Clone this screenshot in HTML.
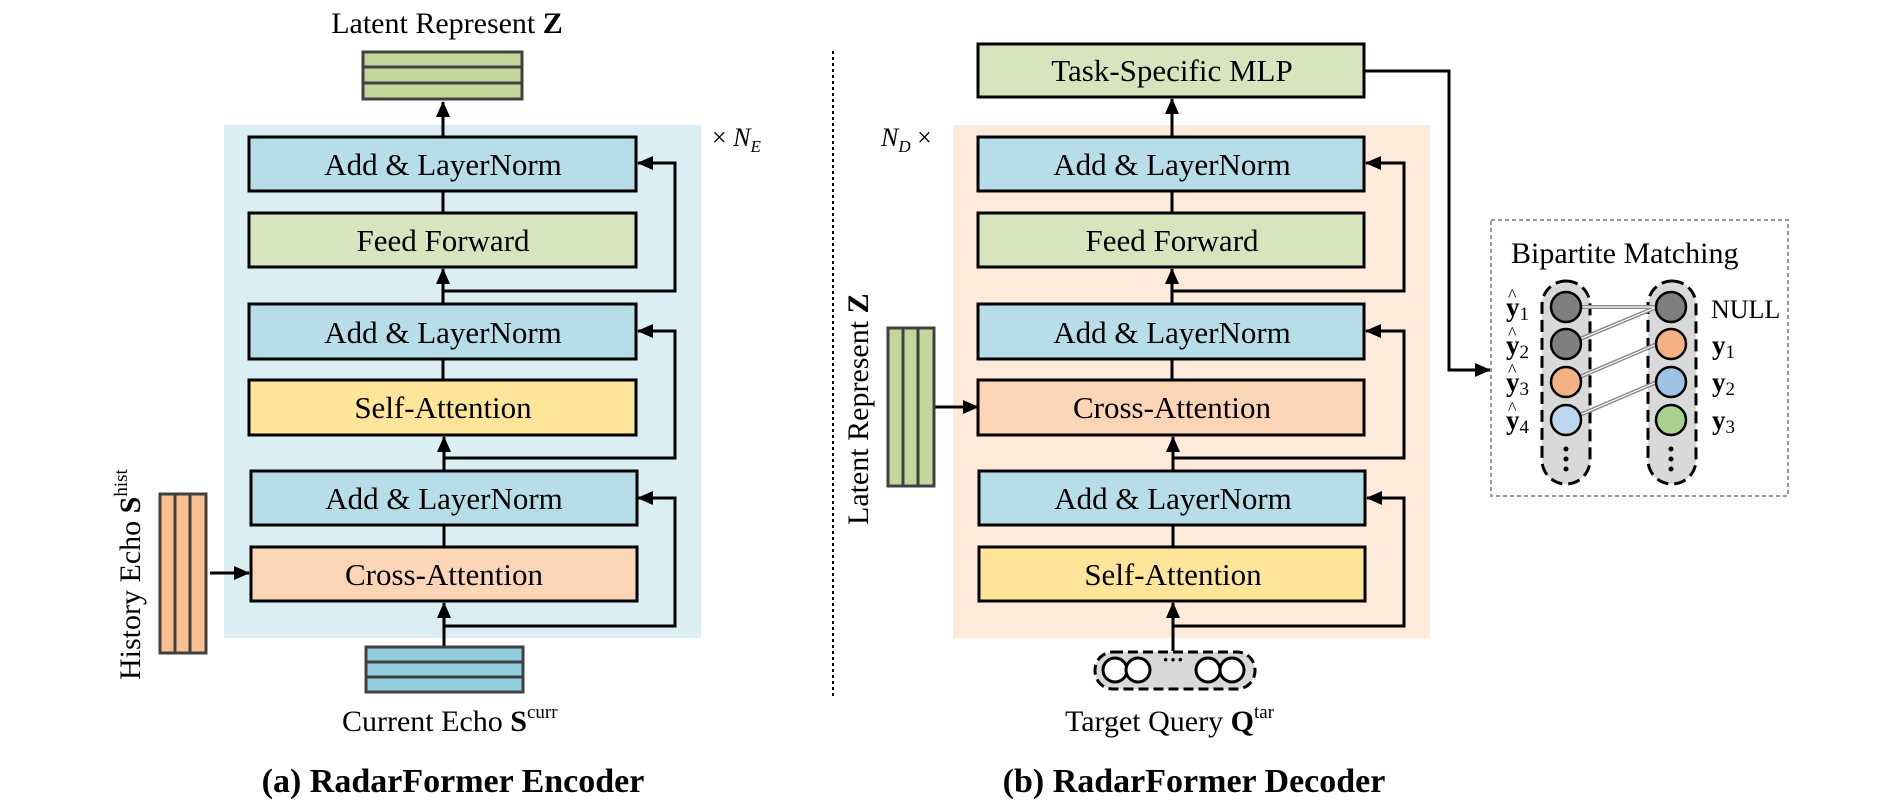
<!DOCTYPE html>
<html><head><meta charset="utf-8"><style>
html,body{margin:0;padding:0;background:#fff;}
svg{display:block;}
text{font-family:"Liberation Serif",serif;fill:#000;}
</style></head><body>
<svg width="1896" height="807" viewBox="0 0 1896 807" xmlns="http://www.w3.org/2000/svg">
<defs>
<marker id="ah" markerWidth="10" markerHeight="10" refX="9" refY="5" orient="auto" markerUnits="userSpaceOnUse" viewBox="0 0 10 10"><path d="M0,0 L10,5 L0,10 z" fill="#000"/></marker>
<marker id="ah2" markerWidth="16" markerHeight="16" refX="15" refY="8" orient="auto" markerUnits="userSpaceOnUse" viewBox="0 0 16 16"><path d="M0,1 L16,8 L0,15 z" fill="#000"/></marker>
</defs>

<!-- ENCODER -->
<text x="447" y="33" font-size="30" text-anchor="middle">Latent Represent <tspan font-weight="bold">Z</tspan></text>
<rect x="363" y="52" width="159" height="47" fill="#c3d69b" stroke="#404040" stroke-width="3"/>
<line x1="363" y1="67" x2="522" y2="67" stroke="#404040" stroke-width="3"/>
<line x1="363" y1="83" x2="522" y2="83" stroke="#404040" stroke-width="3"/>
<rect x="224" y="125" width="477" height="513" fill="#daeef3"/>
<line x1="443" y1="137" x2="443" y2="102" stroke="#000" stroke-width="3" marker-end="url(#ah2)"/>

<g stroke="#000" stroke-width="3" fill="none">
<line x1="443" y1="191" x2="443" y2="213"/>
<line x1="443" y1="304" x2="443" y2="269" marker-end="url(#ah2)"/>
<polyline points="443,291 675,291 675,163 638,163" marker-end="url(#ah2)"/>
<line x1="443" y1="359" x2="443" y2="380"/>
<line x1="444" y1="471" x2="444" y2="437" marker-end="url(#ah2)"/>
<polyline points="444,458 675,458 675,331 638,331" marker-end="url(#ah2)"/>
<line x1="444" y1="525" x2="444" y2="547"/>
<line x1="444" y1="647" x2="444" y2="603" marker-end="url(#ah2)"/>
<polyline points="444,626 675,626 675,498 638,498" marker-end="url(#ah2)"/>
<line x1="210" y1="573" x2="249" y2="573" marker-end="url(#ah2)"/>
</g>

<rect x="249" y="137" width="387" height="54" fill="#b7dde8" stroke="#000" stroke-width="3"/>
<text x="443" y="175" font-size="31" text-anchor="middle">Add &amp; LayerNorm</text>
<rect x="249" y="213" width="387" height="54" fill="#d7e4bd" stroke="#000" stroke-width="3"/>
<text x="443" y="251" font-size="31" text-anchor="middle">Feed Forward</text>
<rect x="249" y="304" width="387" height="55" fill="#b7dde8" stroke="#000" stroke-width="3"/>
<text x="443" y="343" font-size="31" text-anchor="middle">Add &amp; LayerNorm</text>
<rect x="249" y="380" width="387" height="55" fill="#fee599" stroke="#000" stroke-width="3"/>
<text x="443" y="418" font-size="31" text-anchor="middle">Self-Attention</text>
<rect x="251" y="471" width="386" height="54" fill="#b7dde8" stroke="#000" stroke-width="3"/>
<text x="444" y="509" font-size="31" text-anchor="middle">Add &amp; LayerNorm</text>
<rect x="251" y="547" width="386" height="54" fill="#fbd5b5" stroke="#000" stroke-width="3"/>
<text x="444" y="585" font-size="31" text-anchor="middle">Cross-Attention</text>

<text x="712" y="146" font-size="26">× <tspan font-style="italic">N</tspan><tspan font-style="italic" font-size="17" dy="6">E</tspan></text>

<rect x="366" y="647" width="157" height="45" fill="#92cddc" stroke="#404040" stroke-width="3"/>
<line x1="366" y1="662" x2="523" y2="662" stroke="#404040" stroke-width="3"/>
<line x1="366" y1="677" x2="523" y2="677" stroke="#404040" stroke-width="3"/>
<text x="342" y="731" font-size="30">Current Echo <tspan font-weight="bold">S</tspan><tspan font-size="19" dy="-13">curr</tspan></text>

<rect x="160" y="494" width="46" height="159" fill="#fac090" stroke="#404040" stroke-width="3"/>
<line x1="175" y1="494" x2="175" y2="653" stroke="#404040" stroke-width="3"/>
<line x1="190" y1="494" x2="190" y2="653" stroke="#404040" stroke-width="3"/>
<text transform="translate(140,680) rotate(-90)" font-size="30">History Echo <tspan font-weight="bold">S</tspan><tspan font-size="19" dy="-13">hist</tspan></text>

<text x="453" y="792" font-size="34" font-weight="bold" text-anchor="middle">(a) RadarFormer Encoder</text>

<line x1="833" y1="51" x2="833" y2="696" stroke="#000" stroke-width="2" stroke-dasharray="3,3"/>

<!-- DECODER -->
<rect x="953" y="125" width="477" height="513" fill="#fdeada"/>
<g stroke="#000" stroke-width="3" fill="none">
<line x1="1172" y1="137" x2="1172" y2="99" marker-end="url(#ah2)"/>
<line x1="1172" y1="191" x2="1172" y2="213"/>
<line x1="1172" y1="304" x2="1172" y2="269" marker-end="url(#ah2)"/>
<polyline points="1172,291 1404,291 1404,163 1366,163" marker-end="url(#ah2)"/>
<line x1="1172" y1="359" x2="1172" y2="380"/>
<line x1="1173" y1="471" x2="1173" y2="437" marker-end="url(#ah2)"/>
<polyline points="1173,458 1404,458 1404,331 1366,331" marker-end="url(#ah2)"/>
<line x1="1173" y1="525" x2="1173" y2="547"/>
<line x1="1173" y1="651" x2="1173" y2="603" marker-end="url(#ah2)"/>
<polyline points="1173,626 1404,626 1404,498 1367,498" marker-end="url(#ah2)"/>
<line x1="934" y1="407" x2="978" y2="407" marker-end="url(#ah2)"/>
<polyline points="1364,71 1449,71 1449,370 1490,370" marker-end="url(#ah2)"/>
</g>
<rect x="978" y="44" width="386" height="53" fill="#d7e4bd" stroke="#000" stroke-width="3"/>
<text x="1172" y="81" font-size="31" text-anchor="middle">Task-Specific MLP</text>
<rect x="978" y="137" width="386" height="54" fill="#b7dde8" stroke="#000" stroke-width="3"/>
<text x="1172" y="175" font-size="31" text-anchor="middle">Add &amp; LayerNorm</text>
<rect x="978" y="213" width="386" height="54" fill="#d7e4bd" stroke="#000" stroke-width="3"/>
<text x="1172" y="251" font-size="31" text-anchor="middle">Feed Forward</text>
<rect x="978" y="304" width="386" height="55" fill="#b7dde8" stroke="#000" stroke-width="3"/>
<text x="1172" y="343" font-size="31" text-anchor="middle">Add &amp; LayerNorm</text>
<rect x="978" y="380" width="386" height="55" fill="#fbd5b5" stroke="#000" stroke-width="3"/>
<text x="1172" y="418" font-size="31" text-anchor="middle">Cross-Attention</text>
<rect x="979" y="471" width="386" height="54" fill="#b7dde8" stroke="#000" stroke-width="3"/>
<text x="1173" y="509" font-size="31" text-anchor="middle">Add &amp; LayerNorm</text>
<rect x="979" y="547" width="386" height="54" fill="#fee599" stroke="#000" stroke-width="3"/>
<text x="1173" y="585" font-size="31" text-anchor="middle">Self-Attention</text>

<text x="881" y="146" font-size="26"><tspan font-style="italic">N</tspan><tspan font-style="italic" font-size="17" dy="6">D</tspan><tspan dy="-6"> ×</tspan></text>

<rect x="888" y="328" width="46" height="158" fill="#c3d69b" stroke="#404040" stroke-width="3"/>
<line x1="903" y1="328" x2="903" y2="486" stroke="#404040" stroke-width="3"/>
<line x1="918" y1="328" x2="918" y2="486" stroke="#404040" stroke-width="3"/>
<text transform="translate(868,525) rotate(-90)" font-size="30">Latent Represent <tspan font-weight="bold">Z</tspan></text>

<!-- target query -->
<rect x="1095" y="652" width="160" height="37" rx="18" fill="#d9d9d9" stroke="#000" stroke-width="3" stroke-dasharray="10,5"/>
<g fill="#fff" stroke="#000" stroke-width="3">
<circle cx="1115" cy="670" r="12"/><circle cx="1138" cy="670" r="12"/>
<circle cx="1208" cy="670" r="12"/><circle cx="1232" cy="670" r="12"/>
</g>
<text x="1173" y="667" font-size="22" text-anchor="middle" font-weight="bold">···</text>
<text x="1065" y="731" font-size="30">Target Query <tspan font-weight="bold">Q</tspan><tspan font-size="19" dy="-13">tar</tspan></text>

<text x="1194" y="792" font-size="34" font-weight="bold" text-anchor="middle">(b) RadarFormer Decoder</text>

<!-- Bipartite -->
<rect x="1491" y="220" width="297" height="276" fill="#fff" stroke="#999" stroke-width="2" stroke-dasharray="4,3"/>
<text x="1511" y="263" font-size="30">Bipartite Matching</text>
<rect x="1542" y="281" width="48" height="203" rx="24" fill="#d9d9d9" stroke="#000" stroke-width="3" stroke-dasharray="12,6"/>
<rect x="1648" y="281" width="48" height="203" rx="24" fill="#d9d9d9" stroke="#000" stroke-width="3" stroke-dasharray="12,6"/>
<g stroke="#888" stroke-width="4" fill="none">
<line x1="1568" y1="307" x2="1657" y2="307"/>
<line x1="1568" y1="344" x2="1657" y2="307"/>
<line x1="1568" y1="382" x2="1657" y2="344"/>
<line x1="1568" y1="420" x2="1657" y2="382"/>
</g>
<g stroke="#fff" stroke-width="1.2" fill="none">
<line x1="1568" y1="307" x2="1657" y2="307"/>
<line x1="1568" y1="344" x2="1657" y2="307"/>
<line x1="1568" y1="382" x2="1657" y2="344"/>
<line x1="1568" y1="420" x2="1657" y2="382"/>
</g>
<g stroke="#000" stroke-width="2.5">
<circle cx="1566" cy="307" r="15" fill="#7f7f7f"/>
<circle cx="1566" cy="344" r="15" fill="#7f7f7f"/>
<circle cx="1566" cy="382" r="15" fill="#f4b183"/>
<circle cx="1566" cy="420" r="15" fill="#bdd7ee"/>
<circle cx="1671" cy="307" r="15" fill="#7f7f7f"/>
<circle cx="1671" cy="344" r="15" fill="#f4b183"/>
<circle cx="1671" cy="382" r="15" fill="#9dc3e6"/>
<circle cx="1671" cy="420" r="15" fill="#a9d18e"/>
</g>
<g fill="#000">
<circle cx="1566" cy="449" r="2.5"/><circle cx="1566" cy="459" r="2.5"/><circle cx="1566" cy="469" r="2.5"/>
<circle cx="1671" cy="449" r="2.5"/><circle cx="1671" cy="459" r="2.5"/><circle cx="1671" cy="469" r="2.5"/>
</g>
<g font-size="27">
<text x="1506" y="316" font-weight="bold">y<tspan font-weight="normal" font-size="19" dy="4">1</tspan></text>
<text x="1506" y="354" font-weight="bold">y<tspan font-weight="normal" font-size="19" dy="4">2</tspan></text>
<text x="1506" y="391" font-weight="bold">y<tspan font-weight="normal" font-size="19" dy="4">3</tspan></text>
<text x="1506" y="429" font-weight="bold">y<tspan font-weight="normal" font-size="19" dy="4">4</tspan></text>
<text x="1508" y="301" font-size="18">^</text>
<text x="1508" y="339" font-size="18">^</text>
<text x="1508" y="376" font-size="18">^</text>
<text x="1508" y="414" font-size="18">^</text>
<text x="1711" y="318" font-size="26">NULL</text>
<text x="1712" y="354" font-weight="bold">y<tspan font-weight="normal" font-size="19" dy="4">1</tspan></text>
<text x="1712" y="391" font-weight="bold">y<tspan font-weight="normal" font-size="19" dy="4">2</tspan></text>
<text x="1712" y="429" font-weight="bold">y<tspan font-weight="normal" font-size="19" dy="4">3</tspan></text>
</g>
</svg>
</body></html>
